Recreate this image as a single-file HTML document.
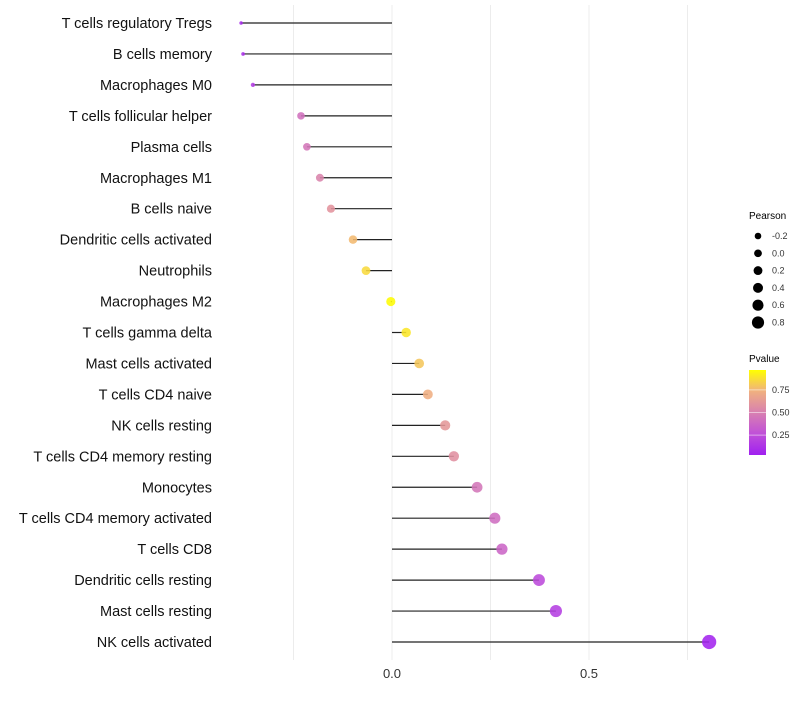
<!DOCTYPE html>
<html><head><meta charset="utf-8"><style>body{margin:0;background:#fff;font-family:"Liberation Sans",sans-serif}</style></head>
<body>
<svg id="chart" width="800" height="700" xmlns="http://www.w3.org/2000/svg">
<defs><linearGradient id="pg" x1="0" y1="1" x2="0" y2="0">
<stop offset="0" stop-color="#a020f0"/><stop offset="0.25" stop-color="#c050d8"/><stop offset="0.5" stop-color="#d880b0"/><stop offset="0.75" stop-color="#f0b080"/><stop offset="1" stop-color="#ffff00"/></linearGradient></defs>
<g id="grid"></g><g id="marks"></g><g id="labels"></g>
<g font-size="10">
<text x="749" y="219">Pearson</text>
<g id="sizeleg"></g>
<text x="749" y="362">Pvalue</text>
<rect x="749" y="370" width="17" height="85" fill="url(#pg)"/>
<g id="colleg"></g>
</g>
</svg>
<script>
const cells=["T cells regulatory  Tregs","B cells memory","Macrophages M0","T cells follicular helper","Plasma cells","Macrophages M1","B cells naive","Dendritic cells activated","Neutrophils","Macrophages M2","T cells gamma delta","Mast cells activated","T cells CD4 naive","NK cells resting","T cells CD4 memory resting","Monocytes","T cells CD4 memory activated","T cells CD8","Dendritic cells resting","Mast cells resting","NK cells activated"];
const pearson=[-0.383,-0.378,-0.353,-0.231,-0.216,-0.183,-0.155,-0.099,-0.066,-0.003,0.036,0.069,0.091,0.135,0.157,0.216,0.261,0.279,0.373,0.416,0.805];
const pvalue=[0.05,0.08,0.15,0.42,0.45,0.52,0.6,0.78,0.88,0.99,0.92,0.82,0.74,0.62,0.58,0.45,0.4,0.36,0.22,0.16,0.02];
const xTicks=[0,0.5];
const sizeLegend=[-0.2,0,0.2,0.4,0.6,0.8];
const colTicks=[0.25,0.5,0.75];
const NS="http://www.w3.org/2000/svg";
const xs=v=>392+v*394;
const ys=i=>23+i*30.95;
const ra=[[-0.4,1.5],[-0.38,1.8],[-0.23,3.8],[0,4.6],[0.22,5.4],[0.42,6.1],[0.8,7.1],[1,7.5]];
function rs(v){for(let k=1;k<ra.length;k++){if(v<=ra[k][0]){const a=ra[k-1],b=ra[k];return a[1]+(b[1]-a[1])*(v-a[0])/(b[0]-a[0]);}}return 7.5;}
const stops=[[0,[160,32,240]],[0.25,[192,80,216]],[0.5,[216,128,176]],[0.75,[240,176,128]],[1,[255,255,0]]];
function col(p){for(let k=1;k<stops.length;k++){if(p<=stops[k][0]){const a=stops[k-1],b=stops[k],t=(p-a[0])/(b[0]-a[0]);return "rgb("+a[1].map((c,j)=>Math.round(c+(b[1][j]-c)*t)).join(",")+")";}}return "rgb(255,255,0)";}
function el(t,a,p){const e=document.createElementNS(NS,t);for(const k in a)e.setAttribute(k,a[k]);p.appendChild(e);return e;}
const grid=document.getElementById("grid"),marks=document.getElementById("marks"),labels=document.getElementById("labels");
[-0.25,0,0.25,0.5,0.75].forEach(v=>{const l=el("line",{x1:xs(v),x2:xs(v),y1:5,y2:660,stroke:"#ececec","stroke-width":1},grid);

});
xTicks.forEach(v=>{const t=el("text",{x:xs(v),y:678,"text-anchor":"middle","font-size":13,fill:"#333"},labels);t.textContent=v.toFixed(1);

});
cells.forEach((c,i)=>{const y=ys(i);
const t=el("text",{x:212,y:y+5,"text-anchor":"end","font-size":14.5,fill:"#111"},labels);t.textContent=c;


const l=el("line",{x1:xs(0),x2:xs(pearson[i]),y1:y,y2:y,stroke:"#222","stroke-width":1.2},marks);


const d=el("circle",{cx:xs(pearson[i]),cy:y,r:rs(pearson[i]),fill:col(pvalue[i]),"fill-opacity":0.88},marks);


});
const sl=document.getElementById("sizeleg");
sizeLegend.forEach((v,i)=>{const y=236+i*17.3;
const c=el("circle",{cx:758,cy:y,r:3.3+(v+0.2)*2.8,fill:"#000"},sl);


const t=el("text",{x:772,y:y+3,"font-size":9,fill:"#333"},sl);t.textContent=v.toFixed(1);

});
const cl=document.getElementById("colleg");
colTicks.forEach(v=>{const y=455-(v-0.03)/0.94*85;
const l=el("line",{x1:749,x2:766,y1:y,y2:y,stroke:"#fff","stroke-opacity":0.5},cl);


const t=el("text",{x:772,y:y+3,"font-size":9,fill:"#333"},cl);t.textContent=v.toFixed(2);

});
</script>
</body></html>
